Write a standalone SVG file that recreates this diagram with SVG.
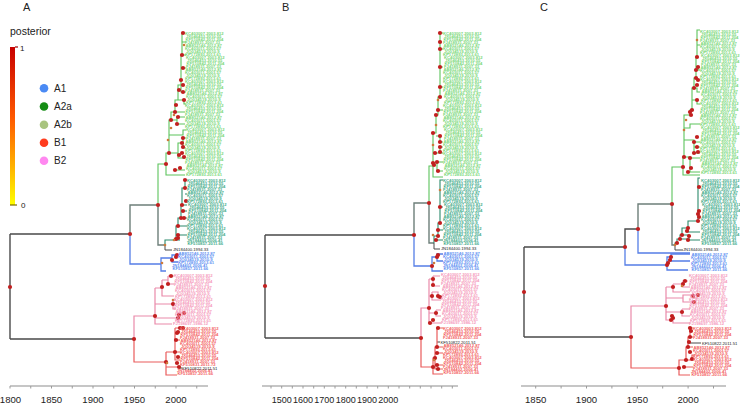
<svg xmlns="http://www.w3.org/2000/svg" width="740" height="404" viewBox="0 0 740 404">
<style>
.br{fill:none;stroke-width:1.1}
.k{stroke:#4a4a4a;stroke-width:1.4}
.g{stroke:#6d7f79;stroke-width:1.4}
.gl{stroke:#5cc45c}
.t{stroke:#2d8a6c}
.b{stroke:#557ee6;stroke-width:1.3}
.p{stroke:#ea8aaa;stroke-width:1.2}
.r{stroke:#ea5c5c;stroke-width:1.2}
.n circle{fill:#c21f1f}
.n circle.s{fill:#cd7a3a}
.ax{stroke:#b3b3b3;stroke-width:1.5;fill:none}
.tk{stroke:#9a9a9a;stroke-width:1;fill:none}
.at{font-family:"Liberation Sans",Arial,sans-serif;font-size:9.6px;fill:#222;text-anchor:middle}
.atb{font-size:9px}
.pl{font-family:"Liberation Sans",Arial,sans-serif;font-size:11px;fill:#222}
.lg{font-family:"Liberation Sans",Arial,sans-serif;font-size:10px;fill:#222}
.sm{font-size:8px}
.lt{font-family:"Liberation Sans",Arial,sans-serif;font-size:4.2px}
</style>
<defs>
<linearGradient id="pg" x1="0" y1="0" x2="0" y2="1">
<stop offset="0" stop-color="#c80000"/>
<stop offset="0.45" stop-color="#ff5a00"/>
<stop offset="0.75" stop-color="#ffb000"/>
<stop offset="1" stop-color="#ffff00"/>
</linearGradient>
<g id="L4" font-family="Liberation Sans, Arial, sans-serif" font-size="4.2" font-weight="bold">
<text x="0" y="0">KC403007.2003.812</text>
<text x="1" y="3">JX046453.2010.55</text>
<text x="0.5" y="6">KF510842.2011.204</text>
<text x="0" y="9">FJ418931.2007.33</text>
</g>
<g id="L4b" font-family="Liberation Sans, Arial, sans-serif" font-size="4.2" font-weight="bold">
<text x="0.5" y="0">AB852146.2012.87</text>
<text x="0" y="3">KC403011.2003.57</text>
<text x="1" y="6">JQ034519.2010.9</text>
<text x="0" y="9">KP172893.2013.61</text>
</g>
<g id="L2" font-family="Liberation Sans, Arial, sans-serif" font-size="4.2" font-weight="bold">
<text x="0" y="0">JN184402.2006.41</text>
<text x="0.5" y="3">KF510857.2011.66</text>
</g>
</defs>
<rect width="740" height="404" fill="#ffffff"/>

<text class="pl" x="23" y="11">A</text>
<text class="pl" x="282" y="11">B</text>
<text class="pl" x="540" y="11">C</text>

<g id="colorbar">
<text class="lg" x="10" y="35" style="font-size:10.5px">posterior</text>
<rect x="10" y="47" width="5" height="158" fill="url(#pg)"/>
<path d="M15,47H18" stroke="#a00000" stroke-width="1.2"/>
<path d="M10,205H17" stroke="#7a6a00" stroke-width="1.2"/>
<text class="lg sm" x="20" y="51">1</text>
<text class="lg sm" x="21" y="208">0</text>
</g>
<g id="legend-A1"><circle cx="44" cy="88.3" r="4.3" fill="#4a8af4"/><text class="lg" x="54" y="91.8">A1</text></g>
<g id="legend-A2a"><circle cx="44" cy="106.5" r="4.3" fill="#148c14"/><text class="lg" x="54" y="110">A2a</text></g>
<g id="legend-A2b"><circle cx="44" cy="124.7" r="4.3" fill="#a9c47f"/><text class="lg" x="54" y="128.2">A2b</text></g>
<g id="legend-B1"><circle cx="44" cy="142.7" r="4.3" fill="#ff3c1e"/><text class="lg" x="54" y="146.2">B1</text></g>
<g id="legend-B2"><circle cx="44" cy="160.7" r="4.3" fill="#ff88f0"/><text class="lg" x="54" y="164.2">B2</text></g>

<g id="axisA">
<path class="ax" d="M10,386H208"/>
<path class="tk" d="M10,386v2.5M30.75,386v2.5M51.5,386v2.5M72.25,386v2.5M93,386v2.5M113.75,386v2.5M134.5,386v2.5M155.25,386v2.5M176,386v2.5M196.75,386v2.5"/>
<text class="at" x="10.5" y="403">1800</text>
<text class="at" x="51.5" y="403">1850</text>
<text class="at" x="93" y="403">1900</text>
<text class="at" x="134.5" y="403">1950</text>
<text class="at" x="176" y="403">2000</text>
</g>
<g id="connectorsA">
<path class="br k" d="M10,234V339M10,234H130M10,339H134"/>
<path class="br g" d="M130,234V205H158V245H165"/>
<path class="br gl" d="M158,205V164H166"/>
<path class="br b" d="M130,234V264H161"/>
<path class="br p" d="M134,339V316H155"/>
<path class="br r" d="M134,339V362H166"/>
<path class="br gl" d="M166,164V153H169V120H171V112H175V100H178V85H181V55H182V33H185M166,164V175H185M175,170H185M169,153H178V158H185M178,153V143H183V138H186M183,143V148H186M171,120H177V124H185M177,120V117H185M175,112H185M178,100H184V104H186M181,80V92H186M181,68H186M182,55H186M182,42H186M169,135H183V130H186"/>
<path class="br t" d="M165,245V240H176V226H178V218H181V205H182V188H185V180H187M176,240H180M176,235H187M178,226H187M181,218H187M184,211H187M182,205H187M185,194H187"/>
<path class="br k" style="stroke-width:1" d="M165,245V250H172M179,368H182"/>
<path class="br b" d="M161,264V258H172V255H178M172,258V262H178M161,264V271H166"/>
<path class="br p" d="M155,288V324H172M155,288H162M162,280V296H174M162,280H168M168,276V284H174M168,276H174M155,304H173M173,300V309H176M173,300H176M155,318H178M178,313V322H180M178,313H184"/>
<path class="br r" d="M166,352V375H177M166,352H175M175,328V360H180M175,328H183M175,340H180M175,352H180M166,367H179"/>
</g>
<g id="nodesA" class="n">
<circle cx="10" cy="287" r="2.1"/><circle cx="130" cy="234" r="2.1"/><circle cx="158" cy="205" r="2.1"/><circle cx="134" cy="339" r="2.1"/><circle cx="155" cy="316" r="2.1"/><circle cx="166" cy="362" r="2.1"/>
<circle cx="183" cy="33" r="2.1"/><circle cx="182" cy="55" r="2.1"/><circle cx="183" cy="68" r="2.1"/><circle cx="181" cy="80" r="2.1"/><circle cx="183" cy="85" r="2.1"/><circle cx="179" cy="90" r="2.1"/><circle cx="183" cy="92" r="2.1"/><circle cx="184" cy="100" r="2.1"/><circle cx="176" cy="105" r="2.1"/><circle cx="175" cy="112" r="2.1"/><circle cx="178" cy="117" r="2.1"/><circle cx="171" cy="120" r="2.1"/><circle cx="177" cy="124" r="2.1"/><circle cx="183" cy="138" r="2.1"/><circle cx="182" cy="143" r="2.1"/><circle cx="183" cy="147" r="2.1"/><circle cx="169" cy="153" r="2.1"/><circle cx="182" cy="153" r="2.1"/><circle cx="179" cy="155" r="2.1"/><circle cx="184" cy="157" r="2.1"/><circle cx="166" cy="164" r="2.1"/><circle cx="180" cy="168" r="2.1"/><circle cx="175" cy="170" r="2.1"/>
<circle cx="176" cy="239" r="2.1"/><circle cx="178" cy="238" r="2.1"/><circle cx="178" cy="235" r="2.1"/><circle cx="178" cy="226" r="2.1"/><circle cx="181" cy="218" r="2.1"/><circle cx="184" cy="218" r="2.1"/><circle cx="183" cy="211" r="2.1"/><circle cx="182" cy="205" r="2.1"/><circle cx="186" cy="201" r="2.1"/><circle cx="185" cy="188" r="2.1"/><circle cx="185" cy="180" r="2.1"/>
<circle cx="172" cy="260" r="2.1"/><circle cx="176" cy="257" r="2.1"/><circle cx="177" cy="255" r="2.1"/>
<circle cx="162" cy="287" r="2.1"/><circle cx="168" cy="284" r="2.1"/><circle cx="171" cy="276" r="2.1"/><circle cx="173" cy="304" r="2.1"/><circle cx="178" cy="318" r="2.1"/><circle cx="184" cy="313" r="2.1"/><circle cx="179" cy="315" r="2.1"/>
<circle cx="175" cy="352" r="2.1"/><circle cx="176" cy="340" r="2.1"/><circle cx="177" cy="333" r="2.1"/><circle cx="178" cy="332" r="2.1"/><circle cx="180" cy="328" r="2.1"/><circle cx="183" cy="328" r="2.1"/><circle cx="178" cy="357" r="2.1"/><circle cx="177" cy="363" r="2.1"/><circle cx="179" cy="367" r="2.1"/>
<circle class="s" cx="174" cy="115" r="1.3"/><circle class="s" cx="171" cy="128" r="1.3"/><circle class="s" cx="168" cy="140" r="1.3"/><circle class="s" cx="184" cy="45" r="1.3"/><circle class="s" cx="165" cy="245" r="1.3"/><circle class="s" cx="162" cy="263" r="1.3"/><circle class="s" cx="173" cy="300" r="1.3"/><circle class="s" cx="167" cy="363" r="1.3"/><circle class="s" cx="174" cy="240" r="1.3"/>
</g>
<g id="labelsA">
<g fill="#7ad87a">
<use href="#L4" x="185" y="35"/><use href="#L4b" x="185" y="47"/><use href="#L4" x="186" y="59"/><use href="#L4b" x="185" y="71"/><use href="#L4" x="185" y="83"/><use href="#L4b" x="186" y="95"/><use href="#L4" x="185" y="107"/><use href="#L4b" x="185" y="119"/><use href="#L4" x="186" y="131"/><use href="#L4b" x="185" y="143"/><use href="#L4" x="185" y="155"/><use href="#L4b" x="186" y="167"/>
</g>
<g fill="#45ad8c">
<use href="#L4" x="187" y="182"/><use href="#L4b" x="187" y="194"/><use href="#L4" x="188" y="206"/><use href="#L4b" x="187" y="218"/><use href="#L4" x="187" y="230"/><use href="#L2" x="187" y="242"/>
</g>
<text class="lt" x="173" y="251" fill="#222">JN184400.1994.33</text>
<g fill="#6090f2"><use href="#L4b" x="178" y="255"/><use href="#L2" x="172" y="267"/></g>
<g fill="#f59abb"><use href="#L4" x="174" y="277"/><use href="#L4b" x="175" y="289"/><use href="#L4" x="174" y="301"/><use href="#L4b" x="175" y="313"/><text class="lt" x="173" y="325" font-weight="bold">FJ198697.1986.12</text></g>
<g fill="#f36262"><use href="#L4" x="180" y="330"/><use href="#L4b" x="180" y="342"/><use href="#L4" x="180" y="354"/><text class="lt" x="180" y="366" font-weight="bold">KF510831.2011.72</text><use href="#L2" x="177" y="372"/></g>
<text class="lt" x="182" y="369.5" fill="#222">KF510822.2011.51</text>
</g>

<g id="axisB">
<path class="ax" d="M262,386H458"/>
<path class="tk" d="M271,386v2.5M281.7,386v2.5M292.3,386v2.5M303,386v2.5M313.7,386v2.5M324.3,386v2.5M335,386v2.5M345.7,386v2.5M356.3,386v2.5M367,386v2.5M377.7,386v2.5M388.3,386v2.5M399,386v2.5M409.7,386v2.5M420.3,386v2.5M431,386v2.5M441.7,386v2.5M452.3,386v2.5"/>
<text class="at atb" x="281.7" y="403">1500</text>
<text class="at atb" x="303" y="403">1600</text>
<text class="at atb" x="324.3" y="403">1700</text>
<text class="at atb" x="345.7" y="403">1800</text>
<text class="at atb" x="367" y="403">1900</text>
<text class="at atb" x="388.3" y="403">2000</text>
</g>
<g id="connectorsB">
<path class="br k" d="M265,235V338M265,235H414M265,338H421"/>
<path class="br g" d="M414,235V203H429V243H434"/>
<path class="br gl" d="M429,203V166H433"/>
<path class="br b" d="M414,235V266H432"/>
<path class="br p" d="M421,338V308H429"/>
<path class="br r" d="M421,338V367H433"/>
<path class="br gl" d="M433,166V133H436V115H438V97H440V33H443M433,166V177H443M433,163H437V171H443M437,162H443M436,153H440V147H443M440,153H443M436,136H440V142H443M438,110H443M440,87H443M440,67H443M440,49H443"/>
<path class="br t" d="M434,243V236H438V223H440V180H443M438,230H443M434,240H443M440,207H443"/>
<path class="br k" style="stroke-width:1" d="M434,243V249H440M437,342H440"/>
<path class="br b" d="M432,266V257H437V254H443M437,257V261H443M432,266V271H443"/>
<path class="br p" d="M429,279V323H441M429,279H433M433,276V286H440M433,276H440M429,296H432M432,292V300H441M432,292H438V298H441M429,313H436M436,310V316H441M436,310H441"/>
<path class="br r" d="M433,367V358H435V347H437V328H443M437,347H443M437,353H443M435,358V369H443M435,365H443M433,367V374H443"/>
</g>
<g id="nodesB" class="n">
<circle cx="265" cy="286" r="2.1"/><circle cx="414" cy="235" r="2.1"/><circle cx="429" cy="203" r="2.1"/><circle cx="421" cy="338" r="2.1"/>
<circle cx="440" cy="33" r="2.1"/><circle cx="440" cy="42" r="2.1"/><circle cx="440" cy="49" r="2.1"/><circle cx="440" cy="67" r="2.1"/><circle cx="440" cy="87" r="2.1"/><circle cx="440" cy="97" r="2.1"/><circle cx="438" cy="110" r="2.1"/><circle cx="436" cy="115" r="2.1"/><circle cx="433" cy="133" r="2.1"/><circle cx="440" cy="136" r="2.1"/><circle cx="440" cy="142" r="2.1"/><circle cx="440" cy="147" r="2.1"/><circle cx="435" cy="153" r="2.1"/><circle cx="440" cy="152" r="2.1"/><circle cx="433" cy="163" r="2.1"/><circle cx="437" cy="162" r="2.1"/><circle cx="438" cy="171" r="2.1"/><circle cx="434" cy="165" r="2.1"/>
<circle cx="440" cy="207" r="2.1"/><circle cx="440" cy="223" r="2.1"/><circle cx="438" cy="230" r="2.1"/><circle cx="438" cy="236" r="2.1"/><circle cx="436" cy="240" r="2.1"/>
<circle cx="432" cy="266" r="2.1"/><circle cx="437" cy="257" r="2.1"/><circle cx="438" cy="255" r="2.1"/>
<circle cx="429" cy="308" r="2.1"/><circle cx="433" cy="279" r="2.1"/><circle cx="433" cy="285" r="2.1"/><circle cx="432" cy="296" r="2.1"/><circle cx="438" cy="296" r="2.1"/><circle cx="440" cy="297" r="2.1"/><circle cx="436" cy="313" r="2.1"/><circle cx="433" cy="320" r="2.1"/><circle cx="430" cy="323" r="2.1"/>
<circle cx="438" cy="328" r="2.1"/><circle cx="437" cy="347" r="2.1"/><circle cx="437" cy="353" r="2.1"/><circle cx="435" cy="358" r="2.1"/><circle cx="437" cy="365" r="2.1"/><circle cx="438" cy="369" r="2.1"/><circle cx="433" cy="367" r="2.1"/>
<circle class="s" cx="433" cy="145" r="1.3"/><circle class="s" cx="436" cy="125" r="1.3"/><circle class="s" cx="438" cy="100" r="1.3"/><circle class="s" cx="433" cy="235" r="1.3"/><circle class="s" cx="440" cy="190" r="1.3"/><circle class="s" cx="434" cy="263" r="1.3"/><circle class="s" cx="434" cy="360" r="1.3"/>
</g>
<g id="labelsB">
<g fill="#7ad87a">
<use href="#L4" x="443" y="35"/><use href="#L4b" x="443" y="47"/><use href="#L4" x="444" y="59"/><use href="#L4b" x="443" y="71"/><use href="#L4" x="443" y="83"/><use href="#L4b" x="444" y="95"/><use href="#L4" x="443" y="107"/><use href="#L4b" x="443" y="119"/><use href="#L4" x="444" y="131"/><use href="#L4b" x="443" y="143"/><use href="#L4" x="443" y="155"/><use href="#L4b" x="444" y="167"/>
</g>
<g fill="#45ad8c">
<use href="#L4" x="443" y="182"/><use href="#L4b" x="443" y="194"/><use href="#L4" x="444" y="206"/><use href="#L4b" x="443" y="218"/><use href="#L4" x="443" y="230"/><use href="#L2" x="443" y="242"/>
</g>
<text class="lt" x="441" y="250" fill="#222">JN184400.1994.33</text>
<g fill="#6090f2"><use href="#L4b" x="443" y="255"/><use href="#L2" x="443" y="267"/></g>
<g fill="#f59abb"><use href="#L4" x="441" y="276"/><use href="#L4b" x="442" y="288"/><use href="#L4" x="441" y="300"/><use href="#L4b" x="442" y="312"/><text class="lt" x="441" y="324" font-weight="bold">FJ198697.1986.12</text></g>
<g fill="#f36262"><use href="#L4" x="443" y="330"/><use href="#L4b" x="443" y="347"/><use href="#L4" x="443" y="359"/><use href="#L2" x="443" y="371"/></g>
<text class="lt" x="440.5" y="343.5" fill="#222">KF510822.2011.51</text>
</g>

<g id="axisC">
<path class="ax" d="M521,386H726"/>
<path class="tk" d="M535.7,386v2.5M561.1,386v2.5M586.5,386v2.5M611.9,386v2.5M637.3,386v2.5M662.7,386v2.5M688.1,386v2.5M713.5,386v2.5"/>
<text class="at" x="535.7" y="403">1850</text>
<text class="at" x="586.5" y="403">1900</text>
<text class="at" x="637.3" y="403">1950</text>
<text class="at" x="688.1" y="403">2000</text>
</g>
<g id="connectorsC">
<path class="br k" d="M524,247V337M524,247H625M524,337H631M625,247V229H638"/>
<path class="br g" d="M638,229V204H672V245H675"/>
<path class="br gl" d="M672,204V167H683"/>
<path class="br b" d="M625,247V265H667M638,229V253H690"/>
<path class="br p" d="M631,337V306H666"/>
<path class="br r" d="M631,337V368H679"/>
<path class="br gl" d="M683,167V157H684V115H690V110H692V88H694V78H696V57H697V30H700M683,167V175H700M684,157H690V172H700M690,158H700M684,140H694V153H700M694,142H700M694,147H700M684,128H690V124H700M692,100H697V104H700M694,88H697V92H700M696,67H698V70H700M697,45H700"/>
<path class="br t" d="M675,245V243H677V239H680V235H682V228H688V221H698V178H700M680,239H688M682,235H689V240H700M688,228V232H700M698,211H700M698,217H700"/>
<path class="br k" style="stroke-width:1" d="M675,245V250H683M689,343H701"/>
<path class="br b" d="M667,265V257H671V254H690M671,257V261H690M667,265V270H688"/>
<path class="br p" d="M666,287V320H673V323H690M666,287H673M673,284V292H690M673,284H683V281H688M683,284V287H690M666,298H683V295H693M683,295V302H694M693,293V298H698M666,312H682M682,309V316H690M682,309H690"/>
<path class="br r" d="M679,368V360H686V347H688V337H690V328H693M690,337H693M688,347H693M686,360H692V355H695M692,359H695M679,368V375H690M684,367H693"/>
</g>
<g id="nodesC" class="n">
<circle cx="524" cy="292" r="2.1"/><circle cx="625" cy="247" r="2.1"/><circle cx="638" cy="229" r="2.1"/><circle cx="672" cy="204" r="2.1"/><circle cx="631" cy="337" r="2.1"/>
<circle cx="697" cy="57" r="2.1"/><circle cx="698" cy="67" r="2.1"/><circle cx="696" cy="70" r="2.1"/><circle cx="696" cy="78" r="2.1"/><circle cx="698" cy="80" r="2.1"/><circle cx="697" cy="85" r="2.1"/><circle cx="694" cy="88" r="2.1"/><circle cx="697" cy="100" r="2.1"/><circle cx="692" cy="110" r="2.1"/><circle cx="690" cy="112" r="2.1"/><circle cx="691" cy="115" r="2.1"/><circle cx="697" cy="137" r="2.1"/><circle cx="694" cy="142" r="2.1"/><circle cx="697" cy="147" r="2.1"/><circle cx="698" cy="152" r="2.1"/><circle cx="694" cy="153" r="2.1"/><circle cx="684" cy="157" r="2.1"/><circle cx="690" cy="158" r="2.1"/><circle cx="683" cy="167" r="2.1"/><circle cx="691" cy="168" r="2.1"/><circle cx="688" cy="172" r="2.1"/>
<circle cx="699" cy="187" r="2.1"/><circle cx="699" cy="211" r="2.1"/><circle cx="698" cy="214" r="2.1"/><circle cx="699" cy="217" r="2.1"/><circle cx="698" cy="221" r="2.1"/><circle cx="688" cy="228" r="2.1"/><circle cx="682" cy="235" r="2.1"/><circle cx="687" cy="231" r="2.1"/><circle cx="689" cy="236" r="2.1"/><circle cx="680" cy="239" r="2.1"/><circle cx="677" cy="243" r="2.1"/><circle cx="688" cy="240" r="2.1"/>
<circle cx="667" cy="265" r="2.1"/><circle cx="668" cy="263" r="2.1"/><circle cx="670" cy="260" r="2.1"/><circle cx="671" cy="257" r="2.1"/>
<circle cx="666" cy="306" r="2.1"/><circle cx="673" cy="287" r="2.1"/><circle cx="683" cy="284" r="2.1"/><circle cx="685" cy="281" r="2.1"/><circle cx="693" cy="296" r="2.1"/><circle cx="698" cy="295" r="2.1"/><circle cx="694" cy="302" r="2.1"/><circle cx="682" cy="312" r="2.1"/><circle cx="673" cy="318" r="2.1"/><circle cx="671" cy="320" r="2.1"/><circle cx="672" cy="316" r="2.1"/>
<circle cx="690" cy="328" r="2.1"/><circle cx="691" cy="331" r="2.1"/><circle cx="690" cy="337" r="2.1"/><circle cx="689" cy="342" r="2.1"/><circle cx="688" cy="347" r="2.1"/><circle cx="690" cy="352" r="2.1"/><circle cx="692" cy="359" r="2.1"/><circle cx="686" cy="360" r="2.1"/><circle cx="684" cy="367" r="2.1"/><circle cx="679" cy="368" r="2.1"/>
<circle class="s" cx="684" cy="130" r="1.3"/><circle class="s" cx="686" cy="120" r="1.3"/><circle class="s" cx="697" cy="40" r="1.3"/><circle class="s" cx="675" cy="245" r="1.3"/><circle class="s" cx="682" cy="286" r="1.3"/>
</g>
<g id="labelsC">
<g fill="#7ad87a">
<use href="#L4" x="700" y="33"/><use href="#L4b" x="700" y="45"/><use href="#L4" x="701" y="57"/><use href="#L4b" x="700" y="69"/><use href="#L4" x="700" y="81"/><use href="#L4b" x="701" y="93"/><use href="#L4" x="700" y="105"/><use href="#L4b" x="700" y="117"/><use href="#L4" x="701" y="129"/><use href="#L4b" x="700" y="141"/><use href="#L4" x="700" y="153"/><use href="#L4b" x="701" y="165"/>
</g>
<g fill="#45ad8c">
<use href="#L4" x="701" y="182"/><use href="#L4b" x="701" y="194"/><use href="#L4" x="702" y="206"/><use href="#L4b" x="701" y="218"/><use href="#L4" x="701" y="230"/><use href="#L2" x="701" y="242"/>
</g>
<text class="lt" x="683" y="251" fill="#222">JN184400.1994.33</text>
<g fill="#6090f2"><use href="#L4b" x="691" y="256"/><use href="#L2" x="691" y="268"/></g>
<g fill="#f59abb"><use href="#L4" x="689" y="277"/><use href="#L4b" x="690" y="289"/><use href="#L4" x="689" y="301"/><use href="#L4b" x="690" y="313"/><text class="lt" x="689" y="325" font-weight="bold">FJ198697.1986.12</text></g>
<g fill="#f36262"><use href="#L4" x="693" y="330"/><use href="#L4b" x="693" y="349"/><use href="#L4" x="693" y="361"/><use href="#L2" x="691" y="373"/></g>
<text class="lt" x="702" y="345" fill="#222">KF510822.2011.51</text>
</g>
</svg>
